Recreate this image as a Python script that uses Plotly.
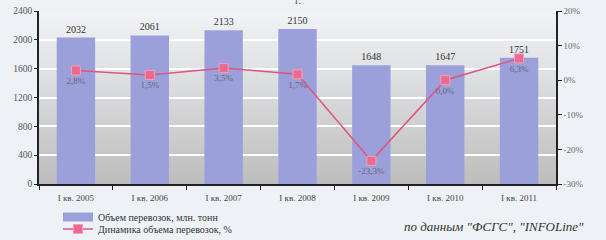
import base64
import plotly.graph_objects as go

categories = ["I кв. 2005", "I кв. 2006", "I кв. 2007", "I кв. 2008", "I кв. 2009", "I кв. 2010", "I кв. 2011"]
volume = [2032, 2061, 2133, 2150, 1648, 1647, 1751]
dynamics = [2.8, 1.5, 3.5, 1.7, -23.3, 0.0, 6.3]
dyn_labels = ["2,8%", "1,5%", "3,5%", "1,7%", "-23,3%", "0,0%", "6,3%"]
left_ticks = [0, 400, 800, 1200, 1600, 2000, 2400]
right_ticks = [-30, -20, -10, 0, 10, 20]
right_tick_text = ["-30%", "-20%", "-10%", "0%", "10%", "20%"]

FONT = "Liberation Serif"
W, H = 606, 240
L, R, T, B = 39, 50, 11, 56
PW, PH = W - L - R, H - T - B
BAR_COLOR = "#9ca0da"


def px(x):
    return (x - L) / PW


def py(y):
    return (H - B - y) / PH


svg = ('<svg xmlns="http://www.w3.org/2000/svg" width="100" height="100" preserveAspectRatio="none">'
       '<defs><linearGradient id="g" x1="0" y1="0" x2="0" y2="1">'
       '<stop offset="0" stop-color="#f1f3f6"/><stop offset="0.35" stop-color="#e0e1e3"/>'
       '<stop offset="1" stop-color="#bdbdbd"/></linearGradient></defs>'
       '<rect width="100" height="100" fill="url(#g)"/></svg>')
src = "data:image/svg+xml;base64," + base64.b64encode(svg.encode()).decode()

fig = go.Figure()
fig.add_trace(go.Bar(
    x=categories, y=volume, name="Объем перевозок, млн. тонн",
    marker=dict(color=BAR_COLOR, line=dict(width=0)), width=0.52,
    text=[str(v) for v in volume], textposition="outside", cliponaxis=False,
    textfont=dict(family=FONT, size=10, color="#333333"),
    showlegend=False,
))
# legend-only entry giving the wide rectangular swatch of the bar series
fig.add_trace(go.Scatter(
    x=[None], y=[None], mode="lines", name="Объем перевозок, млн. тонн",
    line=dict(color=BAR_COLOR, width=9), legend="legend", hoverinfo="skip",
))
fig.add_trace(go.Scatter(
    x=categories, y=dynamics, yaxis="y2", name="Динамика объема перевозок, %",
    mode="lines+markers+text", text=dyn_labels, textposition="bottom center",
    textfont=dict(family=FONT, size=9, color="#666677"),
    line=dict(color="#e0557c", width=1.5),
    marker=dict(symbol="square", size=9, color="#ec6a90", line=dict(color="#f2a0b8", width=1)),
    cliponaxis=False,
    legend="legend2",
))

legend_common = dict(xanchor="left", yanchor="middle", bgcolor="rgba(0,0,0,0)",
                     font=dict(family=FONT, size=10, color="#333333"),
                     itemwidth=30, xref="container", yref="container")

fig.update_layout(
    width=W, height=H,
    margin=dict(l=L, r=R, t=T, b=B, autoexpand=False),
    paper_bgcolor="#eef2f6", plot_bgcolor="rgba(0,0,0,0)",
    font=dict(family=FONT, size=9, color="#444444"),
    showlegend=True,
    legend=dict(x=58 / W, y=1 - 217 / H, **legend_common),
    legend2=dict(x=58 / W, y=1 - 229 / H, **legend_common),
    images=[dict(source=src, xref="paper", yref="paper", x=0, y=1, sizex=1, sizey=1,
                 sizing="stretch", layer="below", xanchor="left", yanchor="top")],
    xaxis=dict(showgrid=False, showline=True, linecolor="#222222", linewidth=1.5,
               ticks="outside", tickson="boundaries", ticklen=4, tickcolor="#222222",
               ticklabelstandoff=4,
               tickfont=dict(family=FONT, size=9, color="#444444")),
    yaxis=dict(range=[0, 2400], tickvals=left_ticks, showgrid=True, gridcolor="#ffffff",
               gridwidth=1.5, showline=True, linecolor="#222222", linewidth=1.5,
               ticks="outside", ticklen=3, tickcolor="#222222", zeroline=False,
               tickfont=dict(family=FONT, size=9.5, color="#555555")),
    yaxis2=dict(range=[-30, 20], tickvals=right_ticks, ticktext=right_tick_text,
                overlaying="y", side="right", showgrid=False, zeroline=False,
                showline=True, linecolor="#222222", linewidth=1.5,
                ticks="outside", ticklen=4, tickcolor="#222222",
                tickfont=dict(family=FONT, size=9, color="#666666")),
    annotations=[
        dict(text='<i>по данным "ФСГС", "INFOLine"</i>', xref="paper", yref="paper",
             x=px(586), y=py(226), xanchor="right", yanchor="middle", showarrow=False,
             font=dict(family=FONT, size=13, color="#333333")),
        dict(text="г.", xref="paper", yref="paper", x=px(298), y=py(0), xanchor="center",
             yanchor="middle", showarrow=False,
             font=dict(family=FONT, size=11, color="#555555")),
    ],
)
fig.write_html("out.html")
